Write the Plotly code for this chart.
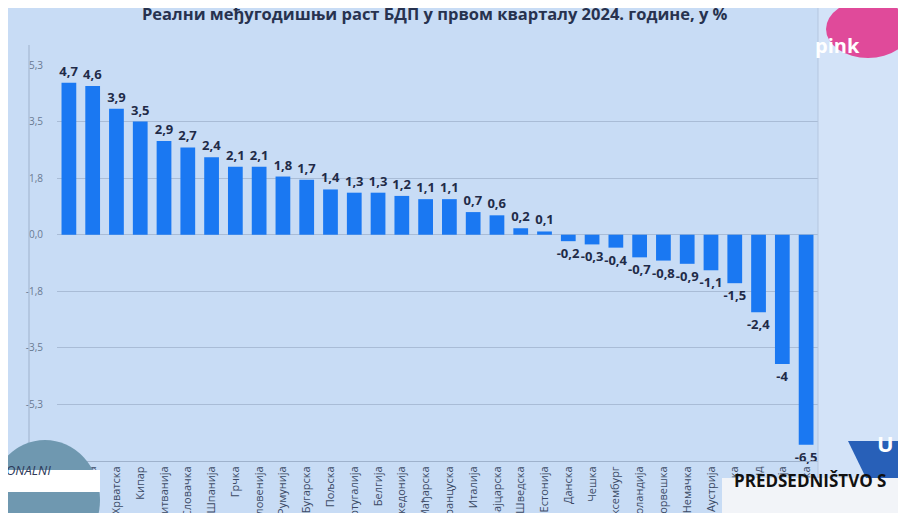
import plotly.graph_objects as go

categories = ["Србија", "Малта", "Хрватска", "Кипар", "Литванија", "Словачка", "Шпанија",
              "Грчка", "Словенија", "Румунија", "Бугарска", "Пољска", "Португалија", "Белгија",
              "Македонија", "Мађарска", "Француска", "Италија", "Швајцарска", "Шведска",
              "Естонија", "Данска", "Чешка", "Луксембург", "Холандија", "Норвешка", "Немачка",
              "Аустрија", "Финска", "Исланд", "Летонија", "Ирска"]
values = [4.7, 4.6, 3.9, 3.5, 2.9, 2.7, 2.4, 2.1, 2.1, 1.8, 1.7, 1.4, 1.3, 1.3, 1.2, 1.1, 1.1,
          0.7, 0.6, 0.2, 0.1, -0.2, -0.3, -0.4, -0.7, -0.8, -0.9, -1.1, -1.5, -2.4, -4, -6.5]
tick_values = [-5.25, -3.5, -1.75, 0, 1.75, 3.5, 5.25]
tick_labels = ["-5,3", "-3,5", "-1,8", "0,0", "1,8", "3,5", "5,3"]
title_text = "Реални међугодишњи раст БДП у првом кварталу 2024. године, у %"

text_labels = [("%g" % v).replace(".", ",") for v in values]

OFF = 8  # page body margin
W, H = 906 - OFF, 513 - OFF
# target page coordinates
PL, PR, PT, PB = 57, 818, 65, 461
L, T = PL - OFF, PT - OFF
R, B = (906 - OFF) - (PR - OFF), (513 - OFF) - (PB - OFF)
pw, ph = W - L - R, H - T - B

def px(x):
    return (x - OFF - L) / pw

def py(y):
    return (H - B - (y - OFF)) / ph

fig = go.Figure()
fig.add_trace(go.Bar(
    x=categories, y=values, text=text_labels, textposition="outside",
    textfont=dict(family="Open Sans", size=13, color="#1f2b48", weight="bold"),
    marker=dict(color="#1a78f2", line=dict(width=0)),
    cliponaxis=False, constraintext="none",
))

fig.update_layout(
    width=W, height=H,
    margin=dict(l=L, r=R, t=T, b=B, autoexpand=False),
    paper_bgcolor="#c8dcf5", plot_bgcolor="rgba(0,0,0,0)",
    bargap=0.38, showlegend=False,
    font=dict(family="Open Sans"),
)
fig.update_yaxes(range=[-7, 5.25], tickvals=tick_values, ticktext=tick_labels,
                 showgrid=True, gridcolor="#a9bcd6", gridwidth=1, zeroline=True,
                 zerolinecolor="#a9bcd6", zerolinewidth=1, ticks="", ticklabelstandoff=13,
                 tickfont=dict(size=10, color="#6a7a92"), showline=False, automargin=False)
fig.update_xaxes(tickangle=-90, tickfont=dict(size=11, color="#3b4a66"),
                 showline=True, linecolor="#9fb2cc", linewidth=1, ticks="",
                 showgrid=False, automargin=False)

# title
fig.add_annotation(text="<b>" + title_text + "</b>", xref="paper", yref="paper",
                   x=px(435), y=py(14), yanchor="middle", showarrow=False,
                   font=dict(family="Open Sans", size=16.5, color="#27324f"))

# left vertical line
fig.add_shape(type="line", xref="paper", yref="paper", x0=px(29), x1=px(29),
              y0=py(513), y1=py(45), line=dict(color="#9fb2cc", width=1))
# right screen edge
fig.add_shape(type="rect", xref="paper", yref="paper", x0=px(818), x1=px(906),
              y0=py(513), y1=py(0), fillcolor="#d3e3f8", line=dict(width=0), layer="below")
fig.add_shape(type="line", xref="paper", yref="paper", x0=px(818), x1=px(818),
              y0=py(513), y1=py(0), line=dict(color="#b5c7df", width=1))

# TV overlays: pink logo
fig.add_shape(type="circle", xref="paper", yref="paper", x0=px(826), x1=px(910),
              y0=py(58), y1=py(0), fillcolor="#e04a9a", line=dict(width=0))
fig.add_annotation(text="<b>pink</b>", xref="paper", yref="paper", x=px(862), y=py(30),
                   showarrow=False, font=dict(family="Open Sans", size=20, color="white"))
# globe bottom-left
fig.add_shape(type="circle", xref="paper", yref="paper", x0=px(-10), x1=px(100),
              y0=py(560), y1=py(440), fillcolor="#6f98b0", line=dict(width=0))
fig.add_shape(type="rect", xref="paper", yref="paper", x0=px(0), x1=px(100),
              y0=py(492), y1=py(470), fillcolor="white", line=dict(width=0))
fig.add_annotation(text="<i>ONALNI</i>", xref="paper", yref="paper", x=px(4), y=py(481),
                   xanchor="left", showarrow=False,
                   font=dict(family="Open Sans", size=13, color="#2d3a5a"))
# banner bottom-right
fig.add_shape(type="path", xref="paper", yref="paper",
              path=f"M {px(848)} {py(441)} L {px(906)} {py(441)} L {px(906)} {py(478)} L {px(866)} {py(478)} Z",
              fillcolor="#2860b8", line=dict(width=0))
fig.add_annotation(text="<b>U</b>", xref="paper", yref="paper", x=px(875), y=py(460),
                   xanchor="left", showarrow=False,
                   font=dict(family="Open Sans", size=22, color="white"))
fig.add_shape(type="rect", xref="paper", yref="paper", x0=px(722), x1=px(906),
              y0=py(513), y1=py(478), fillcolor="#f2f4f8", line=dict(width=0))
fig.add_annotation(text="<b>PREDSEDNIŠTVO S</b>", xref="paper", yref="paper", x=px(732), y=py(494),
                   xanchor="left", showarrow=False,
                   font=dict(family="Open Sans", size=17, color="#111111"))

fig.write_html("out.html")
